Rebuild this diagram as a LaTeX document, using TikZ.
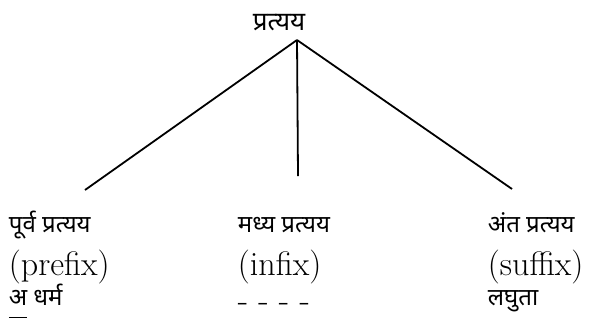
\documentclass[tikz,border=0pt]{standalone}
\usepackage{fontspec}
\newfontfamily\deva[Script=Devanagari]{Noto Sans}
\usetikzlibrary{positioning}

\begin{document}
\begin{tikzpicture}[x=0.5pt, y=-0.5pt, line width=0.9pt,
    hindi/.style={font=\deva\fontsize{12}{16}\selectfont, anchor=base west, inner sep=0pt},
    eng/.style={font=\fontsize{17}{20}\selectfont, anchor=base west, inner sep=0pt}]
\useasboundingbox (0,0) rectangle (597,322);
% root
\node[hindi, font=\deva\fontsize{13}{16}\selectfont, anchor=base] (root) at (279,30) {प्रत्यय};
\coordinate (apex) at (297,40);
% left column
\node[hindi] (pre) at (8,232) {पूर्व प्रत्यय};
\node[eng] (prefix) at (8,275) {(prefix)};
\node[hindi] (preex) at (8,305) {\underline{अ\strut} धर्म};
% middle column
\node[hindi] (mid) at (237,232) {मध्य प्रत्यय};
\node[eng] (infix) at (237,275) {(infix)};
\node[eng] (midex) at (237,311) {- - - -};
% right column
\node[hindi] (post) at (487,232) {अंत प्रत्यय};
\node[eng] (suffix) at (487,275) {(suffix)};
\node[hindi] (postex) at (487,305) {लघुता};
% connectors
\coordinate (preend) at (85,190);
\coordinate (midend) at (298,176);
\coordinate (postend) at (512,189);
\draw (apex) -- (preend);
\draw (apex) -- (midend);
\draw (apex) -- (postend);
\end{tikzpicture}
\end{document}
